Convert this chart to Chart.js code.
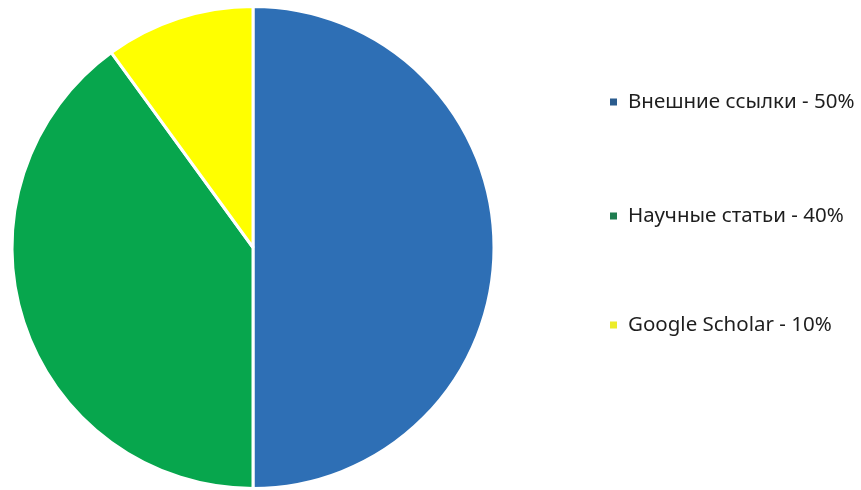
<!DOCTYPE html>
<html>
<head>
<meta charset="utf-8">
<script src="https://cdn.jsdelivr.net/npm/chart.js@4"></script>
<style>
  html, body { margin: 0; padding: 0; background: #fff; }
  #wrap { width: 861px; height: 490px; position: relative; }
</style>
</head>
<body>
<div id="wrap"><canvas id="pie"></canvas></div>
<script>
const categories = ['Внешние ссылки', 'Научные статьи', 'Google Scholar'];
const shares = [50, 40, 10];
const sliceColors = ['#2E6FB5', '#07A64D', '#FFFF00'];
const markerColors = ['#2B5C8E', '#1F7D50', '#ECEC2A'];

// legend drawn to the right, like the source picture
const sideLegend = {
  id: 'sideLegend',
  afterDraw(chart, args, opts) {
    const { ctx } = chart;
    const ds = chart.data.datasets[0];
    ctx.save();
    ctx.font = opts.font;
    ctx.textBaseline = 'middle';
    ctx.textAlign = 'left';
    chart.data.labels.forEach((lab, i) => {
      const y = opts.rows[i];
      ctx.fillStyle = opts.markers[i];
      ctx.fillRect(opts.x, y - 3.5, 7, 7);
      ctx.fillStyle = '#1e1e1e';
      ctx.fillText(`${lab} - ${ds.data[i]}%`, opts.x + 18, y);
    });
    ctx.restore();
  }
};

new Chart(document.getElementById('pie'), {
  type: 'pie',
  data: {
    labels: categories,
    datasets: [{
      data: shares,
      backgroundColor: sliceColors,
      borderColor: '#fff',
      borderWidth: 3
    }]
  },
  options: {
    responsive: true,
    maintainAspectRatio: false,
    animation: false,
    layout: { padding: { left: 10, right: 365, top: 5, bottom: 0 } },
    plugins: {
      legend: { display: false },
      tooltip: { enabled: false },
      sideLegend: {
        x: 610,
        rows: [102, 216, 325],
        markers: markerColors,
        font: '20.5px "Noto Sans"'
      }
    }
  },
  plugins: [sideLegend]
});
</script>
</body>
</html>
